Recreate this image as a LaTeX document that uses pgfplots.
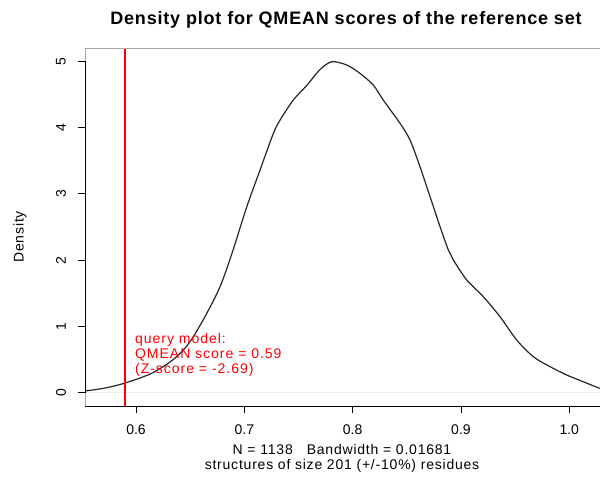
\documentclass[border=0pt]{standalone}
\usepackage{fontspec}
\setmainfont{Liberation Sans}
\newfontfamily\lsT[LetterSpace=4.5]{Liberation Sans Bold}
\newfontfamily\lsA[LetterSpace=5.6]{Liberation Sans}
\newfontfamily\lsR[LetterSpace=7]{Liberation Sans}
\usepackage{pgfplots}
\pgfplotsset{compat=1.18}
\definecolor{qred}{RGB}{255,0,0}
\begin{document}
\begin{tikzpicture}[x=1pt,y=1pt]
\useasboundingbox (0,0) rectangle (600,480);
\begin{axis}[
  at={(85pt,74pt)}, anchor=south west,
  width=520pt, height=358pt, scale only axis,
  xmin=0.5529, xmax=1.033, ymin=-0.2, ymax=5.2,
  axis lines=left, axis line style={draw=none,-},
  xtick={0.6,0.7,0.8,0.9,1.0},
  xticklabels={0.6,0.7,0.8,0.9,1.0},
  ytick={0,1,2,3,4,5},
  tick align=outside, major tick length=7pt,
  tick style={black, line width=0.8pt},
  every tick label/.append style={font=\fontsize{14}{15}\selectfont},
  /pgf/number format/assume math mode=true,
  xticklabel style={anchor=center, yshift=-17pt},
  yticklabel style={rotate=90, anchor=center, yshift=17pt},
  clip=true,
]
\addplot[draw=gray!15, line width=0.6pt] coordinates {(0.50,0) (1.10,0)};
\addplot[color=black!85, line width=1.2pt, smooth] coordinates {
(0.5529,0.026) (0.5714,0.071) (0.5898,0.146) (0.6129,0.282) (0.6314,0.463)
(0.6437,0.644) (0.6529,0.845) (0.6653,1.197) (0.6776,1.600) (0.6884,2.092)
(0.7022,2.801) (0.7145,3.359) (0.7268,3.912) (0.7330,4.113) (0.7452,4.415)
(0.7576,4.635) (0.7699,4.875) (0.7807,4.992) (0.7946,4.943) (0.8068,4.817)
(0.8191,4.640) (0.8283,4.414) (0.8438,4.063) (0.8530,3.811) (0.8622,3.409)
(0.8715,2.957) (0.8807,2.504) (0.8884,2.152) (0.8930,2.002) (0.9054,1.700)
(0.9207,1.448) (0.9361,1.146) (0.9515,0.795) (0.9669,0.543) (0.9823,0.393)
(0.9977,0.267) (1.0130,0.166) (1.0284,0.066) (1.0376,0.041)
};
\addplot[draw=qred, line width=1.6pt, mark=none, forget plot] table {
x y
0.59 -0.5
0.59 5.5
};
\node[text=qred, anchor=west, align=left, inner sep=0pt, font=\lsR\fontsize{14}{14.6}\selectfont]
  at (axis cs:0.599,0.57) {query model:\\QMEAN score = 0.59\\(Z-score = -2.69)};
% frame
\draw[gray!70, line width=1.2pt] (rel axis cs:0,0) -- (rel axis cs:0,1) -- (rel axis cs:1,1);
\draw[black, line width=0.9pt] (rel axis cs:0,0) -- (rel axis cs:1,0);
\draw[black, line width=0.9pt] (axis cs:0.5529,0) -- (axis cs:0.5529,5);
\end{axis}
\node[font=\lsT\fontsize{18}{20}\selectfont, anchor=center] at (346,460) {Density plot for QMEAN scores of the reference set};
\node[rotate=90, font=\lsA\fontsize{14}{15}\selectfont, anchor=center] at (20,243) {Density};
\node[font=\lsA\fontsize{14}{15}\selectfont, anchor=center] at (342,31) {N = 1138\quad Bandwidth = 0.01681};
\node[font=\lsA\fontsize{14}{15}\selectfont, anchor=center] at (342,14) {structures of size 201 (+/-10\%) residues};
\end{tikzpicture}
\end{document}
